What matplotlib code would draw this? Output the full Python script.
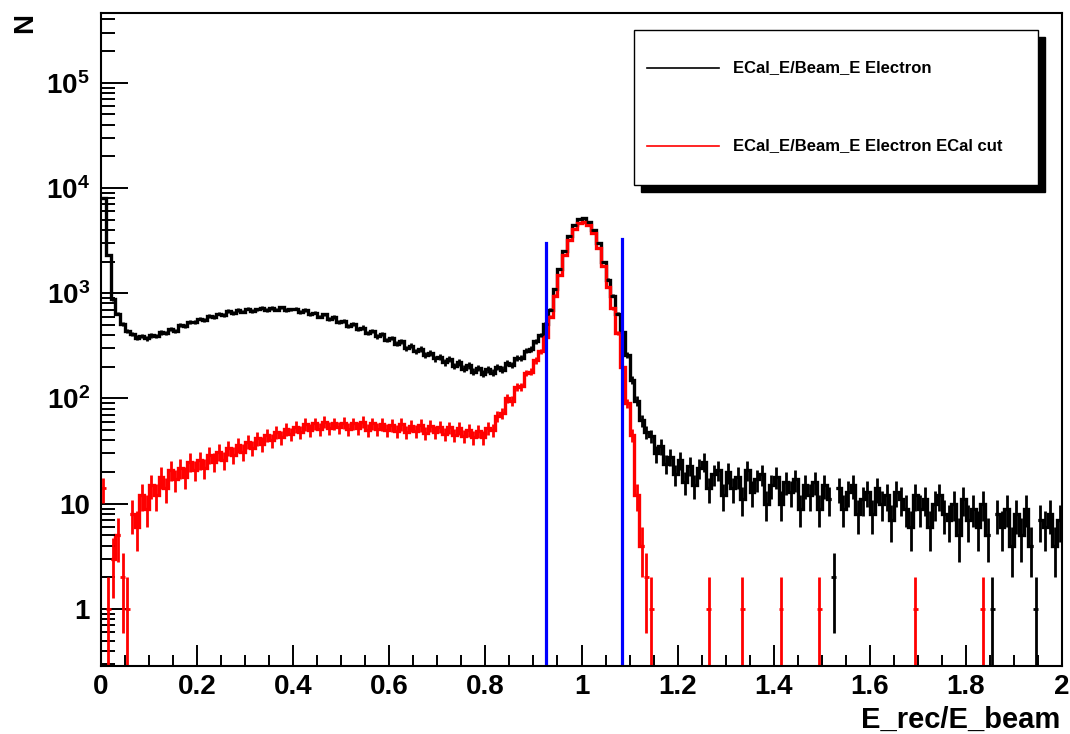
import numpy as np
import matplotlib
matplotlib.use('Agg')
import matplotlib.pyplot as plt
from matplotlib.patches import Rectangle
from matplotlib.lines import Line2D
from matplotlib.ticker import FixedLocator, MultipleLocator, FuncFormatter, NullFormatter

plt.rcParams['font.family'] = ['Liberation Sans', 'DejaVu Sans']
plt.rcParams['font.weight'] = 'bold'
plt.rcParams['mathtext.fontset'] = 'custom'
plt.rcParams['mathtext.rm'] = 'Liberation Sans:bold'
plt.rcParams['mathtext.default'] = 'rm'

# histogram binning: 200 bins from 0 to 2
x_lo, x_hi, n_bins = 0.0, 2.0, 200

# ECal_E/Beam_E Electron (counts per bin)
electron = [
    8000, 2300, 880, 640, 510, 440, 410, 378, 392, 372,
    398, 392, 425, 418, 455, 440, 498, 486, 530, 528,
    575, 552, 610, 598, 640, 622, 675, 650, 690, 668,
    712, 680, 705, 728, 690, 722, 700, 735, 690, 702,
    712, 660, 690, 630, 655, 600, 628, 565, 590, 528,
    548, 492, 515, 458, 472, 420, 440, 388, 410, 360,
    375, 330, 350, 300, 318, 280, 296, 258, 272, 240,
    250, 220, 236, 205, 220, 192, 206, 180, 196, 172,
    190, 176, 200, 188, 218, 208, 245, 244, 285, 295,
    350, 400, 510, 700, 1100, 1700, 2500, 3500, 4450, 5070,
    5200, 4800, 4000, 3000, 2000, 1350, 950, 640, 430, 260,
    150, 95, 62, 48, 44, 30, 35, 24, 28, 19,
    26, 16, 23, 15, 22, 25, 14, 19, 21, 12,
    20, 14, 18, 11, 21, 13, 17, 19, 10, 15,
    18, 10, 16, 13, 17, 9, 15, 12, 16, 9,
    15, 11, 2, 14, 9, 13, 15, 8, 11, 13,
    8, 14, 10, 12, 7, 13, 11, 9, 6, 12,
    9, 11, 6, 10, 12, 8, 7, 10, 5, 11,
    7, 9, 6, 10, 5, 1, 8, 6, 9, 4,
    8, 5, 9, 4, 1, 7, 6, 8, 4, 7,
]

# ECal_E/Beam_E Electron ECal cut (counts per bin)
electron_cut = [
    14, 1, 3, 5, 2, 1, 8, 6, 12, 9,
    15, 12, 18, 14, 21, 17, 22, 18, 25, 21,
    26, 22, 29, 25, 31, 26, 34, 29, 36, 31,
    39, 34, 42, 37, 45, 40, 48, 43, 51, 46,
    54, 48, 57, 50, 58, 51, 60, 52, 58, 53,
    59, 51, 58, 52, 60, 50, 58, 51, 57, 50,
    56, 49, 57, 48, 55, 49, 56, 47, 55, 48,
    54, 46, 53, 45, 52, 44, 50, 43, 49, 43,
    52, 50, 68, 72, 100, 95, 128, 130, 175, 180,
    230, 280, 380, 600, 950, 1500, 2300, 3200, 4100, 4600,
    4750, 4450, 3700, 2700, 1800, 1150, 720, 420, 200, 90,
    45, 12, 4, 2, 1, 0, 0, 0, 0, 0,
    0, 0, 0, 0, 0, 0, 1, 0, 0, 0,
    0, 0, 0, 1, 0, 0, 0, 0, 0, 0,
    0, 1, 0, 0, 0, 0, 0, 0, 0, 1,
    0, 0, 0, 0, 0, 0, 0, 0, 0, 0,
    0, 0, 0, 0, 0, 0, 0, 0, 0, 1,
    0, 0, 0, 0, 0, 0, 0, 0, 0, 0,
    0, 0, 0, 1, 0, 0, 0, 0, 0, 0,
    0, 0, 0, 0, 0, 0, 0, 0, 0, 0,
]

# cut lines
cut_pos = [0.927, 1.085]
cut_top = [3000, 3250]

legend_labels = ['ECal_E/Beam_E Electron', 'ECal_E/Beam_E Electron ECal cut']
colors = ['black', '#ff0000']


def draw_hist(ax, counts, color):
    counts = np.array(counts, dtype=float)
    edges = np.linspace(x_lo, x_hi, n_bins + 1)
    centers = 0.5 * (edges[1:] + edges[:-1])
    w = edges[1] - edges[0]
    ok = counts > 0
    err = np.sqrt(counts)
    lo = np.minimum(err, counts - 0.01)
    ax.errorbar(centers[ok], counts[ok], xerr=w / 2,
                yerr=[lo[ok], err[ok]], fmt='none',
                ecolor=color, elinewidth=2.0, capsize=0)
    # connect neighbouring filled bins so the band looks continuous
    i = 0
    while i < n_bins:
        if counts[i] > 2:
            j = i
            while j + 1 < n_bins and counts[j + 1] > 2:
                j += 1
            if j > i:
                ax.stairs(counts[i:j + 1], edges[i:j + 2], color=color,
                          lw=2.4, baseline=None)
            i = j + 1
        else:
            i += 1


W, H = 1070, 734
fig = plt.figure(figsize=(W / 100, H / 100), dpi=100)
ax = fig.add_axes([101 / W, 1 - 666 / H, 961 / W, 653 / H])

draw_hist(ax, electron, colors[0])
draw_hist(ax, electron_cut, colors[1])

for xc, top in zip(cut_pos, cut_top):
    ax.plot([xc, xc], [0.01, top], color='#0000ff', lw=2.3)

ax.set_yscale('log')
ax.set_xlim(x_lo, x_hi)
ax.set_ylim(0.287, 4.6e5)

ax.xaxis.set_major_locator(MultipleLocator(0.2))
ax.xaxis.set_minor_locator(MultipleLocator(0.05))
ax.xaxis.set_major_formatter(FuncFormatter(lambda v, p: '%g' % round(v, 2)))

ax.yaxis.set_major_locator(FixedLocator([1, 10, 1e2, 1e3, 1e4, 1e5]))
minors = [m * 10.0 ** d for d in range(-1, 6) for m in range(2, 10)]
ax.yaxis.set_minor_locator(FixedLocator(minors))
ax.yaxis.set_minor_formatter(NullFormatter())


def ylab(v, p):
    e = int(round(np.log10(v)))
    if e == 0:
        return '1'
    if e == 1:
        return '10'
    return r'$10^{%d}$' % e


ax.yaxis.set_major_formatter(FuncFormatter(ylab))

ax.tick_params(axis='both', which='both', direction='in', top=False, right=False,
               width=1.4, labelsize=20, colors='black')
ax.tick_params(axis='x', which='major', length=15, pad=6)
ax.tick_params(axis='x', which='minor', length=8)
ax.tick_params(axis='y', which='major', length=19.5, pad=8)
ax.tick_params(axis='y', which='minor', length=10)
for s in ax.spines.values():
    s.set_linewidth(1.5)

fig.text(1060 / W, 1 - 728 / H, 'E_rec/E_beam', ha='right', va='baseline',
         fontsize=21, fontweight='bold')
fig.text(25 / W, 1 - 23 / H, 'N', rotation=90, ha='center', va='center',
         fontsize=20, fontweight='bold')

# legend box with shadow
tf = fig.transFigure
bx0, by0, bx1, by1 = 634, 30, 1038, 185
fig.add_artist(Rectangle(((bx0 + 7) / W, 1 - (by1 + 7) / H), (bx1 - bx0) / W,
                         (by1 - by0) / H, transform=tf, facecolor='black',
                         edgecolor='black'))
fig.add_artist(Rectangle((bx0 / W, 1 - by1 / H), (bx1 - bx0) / W,
                         (by1 - by0) / H, transform=tf, facecolor='white',
                         edgecolor='black', lw=1))
for i, (lab, c) in enumerate(zip(legend_labels, colors)):
    yy = 1 - (68 + i * 78) / H
    fig.add_artist(Line2D([647 / W, 719 / W], [yy, yy], transform=tf,
                          color=c, lw=1.2))
    fig.text(733 / W, yy, lab, ha='left', va='center', fontsize=12,
             fontweight='bold')

fig.savefig('out.png', dpi=100)
